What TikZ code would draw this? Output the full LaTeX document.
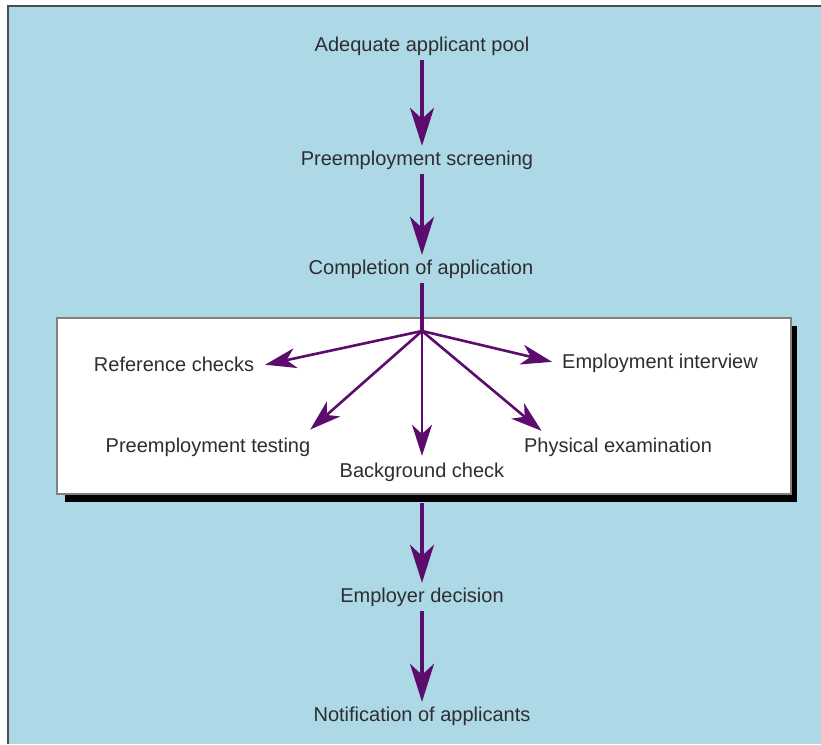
\documentclass[tikz,border=0pt]{standalone}
\usepackage{fontspec}
\setmainfont{Liberation Sans}
\usetikzlibrary{arrows.meta,positioning}
\definecolor{bgblue}{RGB}{173,216,230}
\definecolor{arrowpurple}{RGB}{92,12,108}
\definecolor{textgray}{RGB}{45,45,50}

\begin{document}
\begin{tikzpicture}[x=1pt,y=-1pt,
    stage/.style={text=textgray,font=\fontsize{20}{24}\selectfont,inner sep=5pt,text height=14pt,text depth=4pt},
    flow/.style={draw=arrowpurple,line width=3.4pt,-{Stealth[length=38pt,width=24pt,inset=11pt]}},
    trunk/.style={draw=arrowpurple,line width=3.4pt},
    branch/.style={draw=arrowpurple,line width=2.6pt,-{Stealth[length=31pt,width=20pt,inset=9pt]}}]
          \useasboundingbox (0,0) rectangle (821,744);
          \fill[bgblue] (8,6) rectangle (821,744);
          \draw[gray!60!black,line width=1.5pt] (8,744) -- (8,6) -- (821,6);

          % screening box with its shadow
          \fill[black] (65,326) rectangle (797,502);
          \node (box) at (424,406) [draw=gray,line width=1.5pt,fill=white,minimum width=734pt,minimum height=176pt,inner sep=0pt]{};

          \node (pool) at (422,46) [stage]{Adequate applicant pool};
          \node (screen) at (417,160) [stage]{Preemployment screening};
          \node (complete) at (421,269) [stage]{Completion of application};
          \coordinate (hub) at (422,331);

          \node (refs) at (174,366) [stage]{Reference checks};
          \node (interview) at (660,363) [stage]{Employment interview};
          \node (testing) at (208,447) [stage]{Preemployment testing};
          \node (background) at (422,472) [stage]{Background check};
          \node (physical) at (618,447) [stage]{Physical examination};

          \node (decision) at (422,597) [stage]{Employer decision};
          \node (notify) at (422,716) [stage]{Notification of applicants};

          \draw[flow] (pool.south) -- (pool.south |- screen.north);
          \draw[flow] (pool.south |- screen.south) -- (pool.south |- complete.north);
          \draw[trunk] (hub |- complete.south) -- (hub);

          \draw[branch,shorten >=6pt] (hub) -- (refs.east);
          \draw[branch,shorten >=5pt] (hub) -- (interview.west);
          \draw[branch,shorten >=5pt] (hub) -- ([xshift=-9pt]testing.north east);
          \draw[branch,shorten >=2pt] (hub) -- (background.north);
          \draw[branch,shorten >=3pt] (hub) -- ([xshift=25pt]physical.north west);

          \draw[flow,shorten <=8pt] (decision |- box.south) -- (decision.north);
          \draw[flow] (decision.south) -- (notify.north);
\end{tikzpicture}
\end{document}
